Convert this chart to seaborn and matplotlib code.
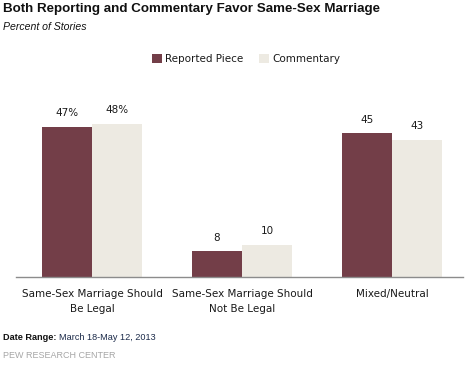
import matplotlib
matplotlib.use("Agg")
import matplotlib.pyplot as plt
import seaborn as sns
import pandas as pd

# data
categories = ["Same-Sex Marriage Should\nBe Legal",
              "Same-Sex Marriage Should\nNot Be Legal",
              "Mixed/Neutral"]
series = ["Reported Piece", "Commentary"]
reported = [47, 8, 45]
commentary = [48, 10, 43]
reported_labels = ["47%", "8", "45"]
commentary_labels = ["48%", "10", "43"]
colors = ["#733e48", "#edeae2"]

df = pd.DataFrame({
    "category": categories * 2,
    "type": [series[0]] * 3 + [series[1]] * 3,
    "value": reported + commentary,
})

sns.set_style("white")
fig = plt.figure(figsize=(4.72, 3.66), dpi=100)
W, H = 472, 366
ax = fig.add_axes([16 / W, (H - 276.7) / H, (463 - 16) / W, (276.7 - 85.3) / H])

sns.barplot(data=df, x="category", y="value", hue="type", palette=colors,
            width=2 / 3, saturation=1, linewidth=0, ax=ax, legend=True)

ax.set_xlim(-0.507, 2.473)
ax.set_ylim(0, 60)
ax.set_xlabel("")
ax.set_ylabel("")
ax.set_yticks([])
for s in ["top", "right", "left"]:
    ax.spines[s].set_visible(False)
ax.spines["bottom"].set_color("#8c8c8c")
ax.spines["bottom"].set_linewidth(1)
ax.tick_params(axis="x", length=0, pad=9, labelsize=7.5, colors="#1a1a1a")
plt.setp(ax.get_xticklabels(), linespacing=1.55)

for cont, labs in zip(ax.containers, [reported_labels, commentary_labels]):
    ax.bar_label(cont, labels=labs, padding=6, fontsize=7.5, color="#1a1a1a")

# legend
handles, labels = ax.get_legend_handles_labels()
ax.get_legend().remove()
fig.legend(handles, labels, loc="center left", bbox_to_anchor=(143 / W, 1 - 59 / H),
           ncol=2, frameon=False, fontsize=7.5, handlelength=0.95, handleheight=0.95,
           handletextpad=0.3, columnspacing=1.5, labelcolor="#1a1a1a")

# title block
fig.text(3 / W, 1 - 9 / H, "Both Reporting and Commentary Favor Same-Sex Marriage",
         family="Liberation Sans", weight="bold", fontsize=9.6, va="center", color="#111111")
fig.text(3 / W, 1 - 27 / H, "Percent of Stories", family="Liberation Sans",
         style="italic", fontsize=7.6, va="center", color="#111111")

# footer
t = fig.text(3 / W, 1 - 337 / H, "Date Range: ", family="Liberation Sans",
             weight="bold", fontsize=6.6, va="center", color="#111111")
fig.canvas.draw()
bb = t.get_window_extent()
fig.text(bb.x1 / W, 1 - 337 / H, "March 18-May 12, 2013", family="Liberation Sans",
         fontsize=6.6, va="center", color="#1c2b4a")
fig.text(3 / W, 1 - 356 / H, "PEW RESEARCH CENTER", family="Liberation Sans",
         fontsize=6.5, va="center", color="#a6a6a6")

fig.savefig("out.png", dpi=100)
